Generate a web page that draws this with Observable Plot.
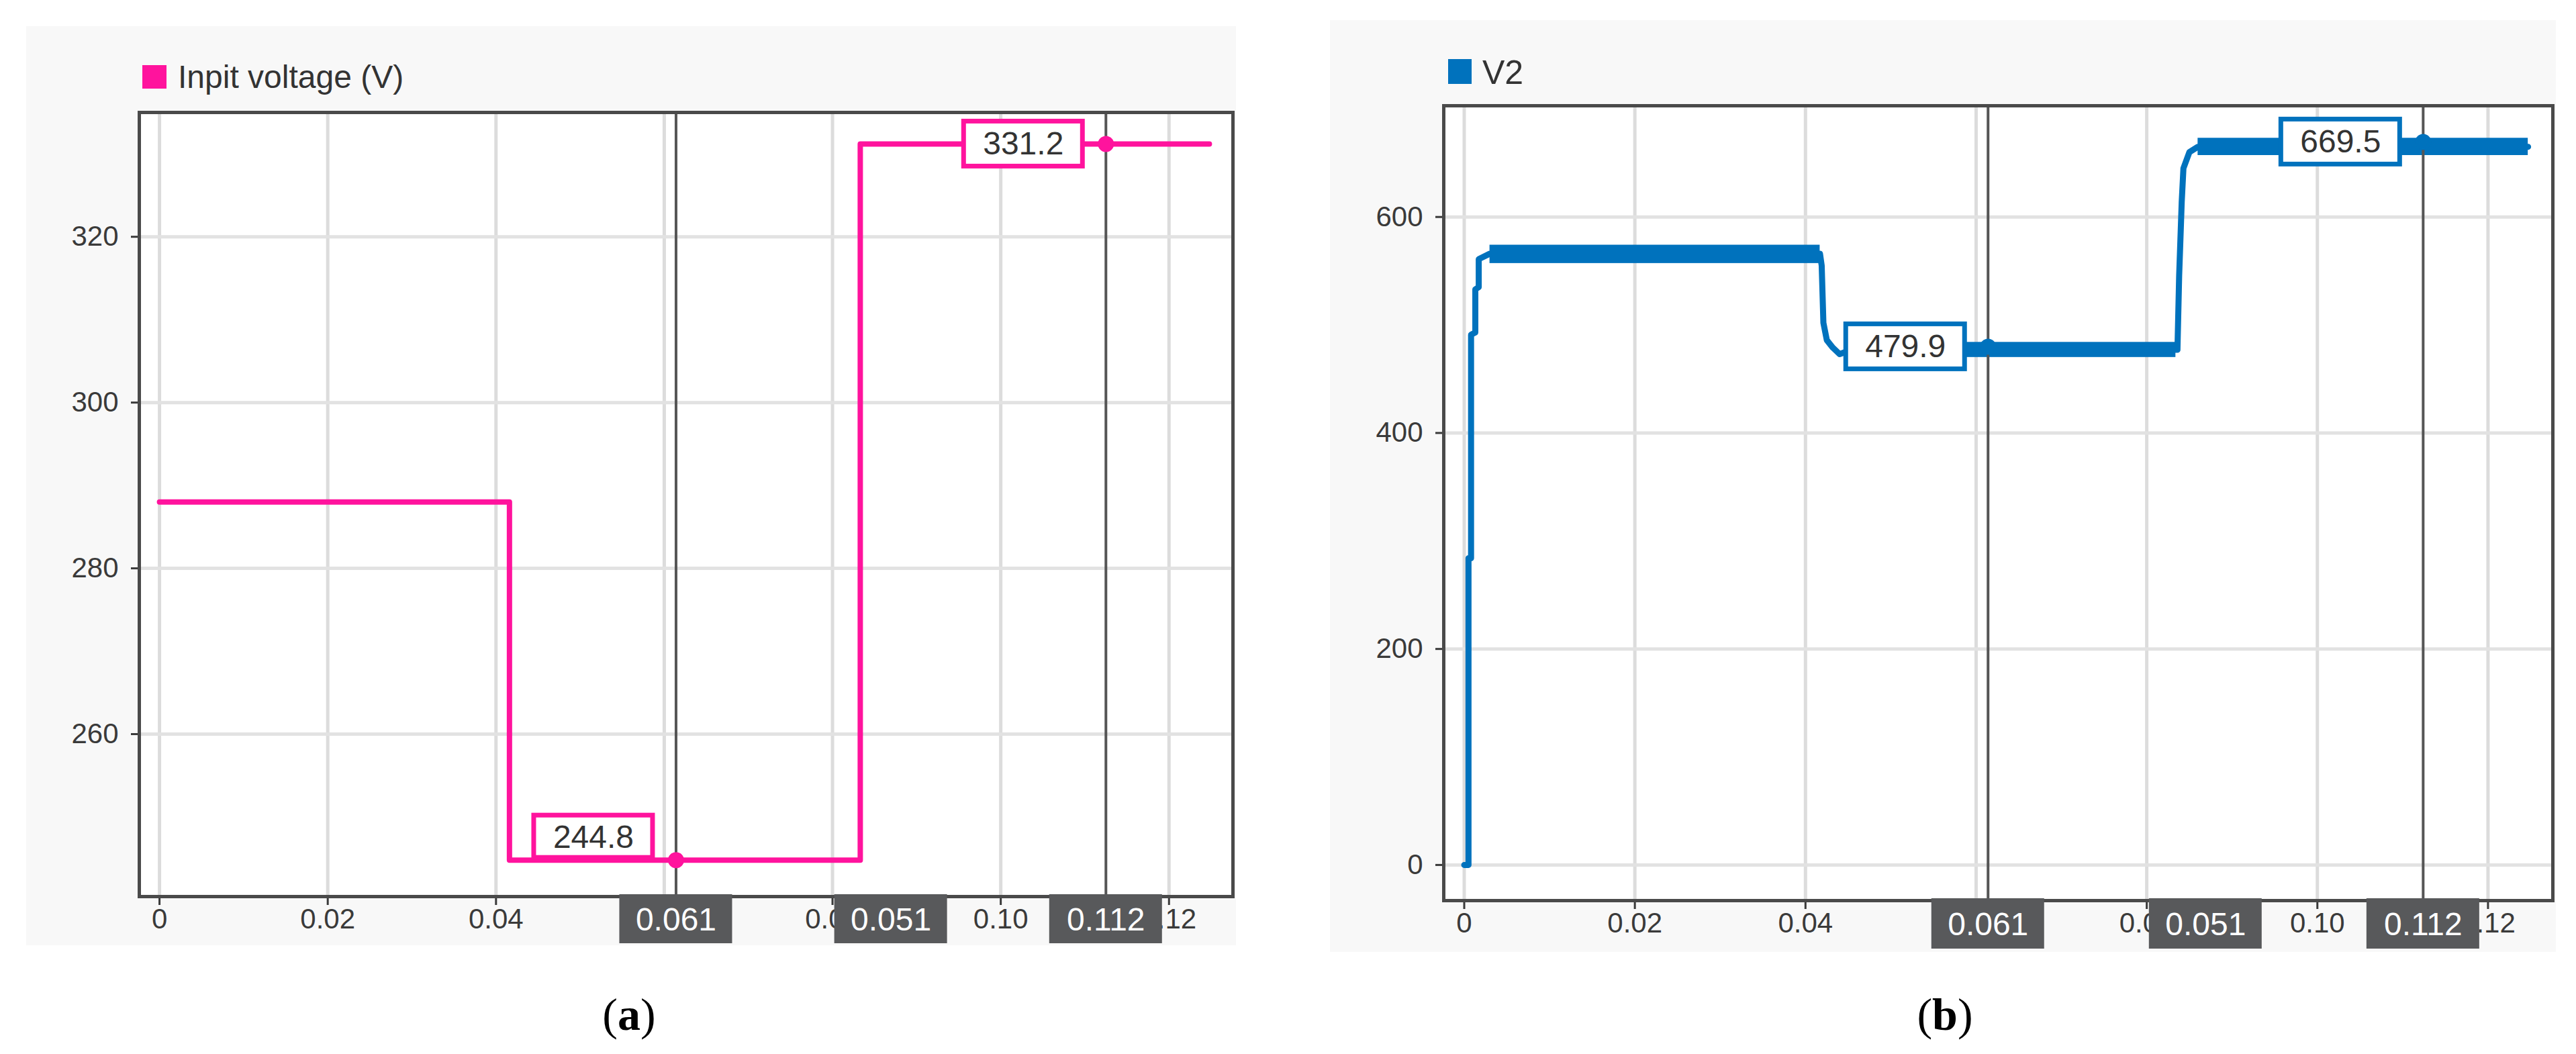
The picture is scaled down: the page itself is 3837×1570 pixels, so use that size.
<!DOCTYPE html>
<html>
<head>
<meta charset="utf-8">
<script src="https://cdn.jsdelivr.net/npm/d3@7"></script>
<script src="https://cdn.jsdelivr.net/npm/@observablehq/plot@0.6"></script>
<style>
html,body{margin:0;padding:0;background:#fff;}
body{width:3837px;height:1570px;position:relative;overflow:hidden;font-family:"Liberation Sans",Arial,sans-serif;}
.panel{position:absolute;background:#f8f8f8;}
.panel svg{position:absolute;left:0;top:0;overflow:visible;}
.sw{position:absolute;}
.lg{position:absolute;color:#333;line-height:1;white-space:nowrap;}
.cap{position:absolute;width:400px;font-family:"Liberation Serif","Times New Roman",serif;font-size:68px;line-height:1;text-align:center;color:#000;}
</style>
</head>
<body>
<div id="pa" class="panel" style="left:39px;top:39px;width:1802px;height:1369px"></div>
<div id="pb" class="panel" style="left:1981px;top:30px;width:1826px;height:1388px"></div>

<div class="sw" style="left:212px;top:97px;width:36px;height:35px;background:#ff139d"></div>
<div class="lg" style="left:265px;top:91px;font-size:48px">Inpit voltage (V)</div>
<div class="sw" style="left:2157px;top:88px;width:35px;height:37px;background:#0072bd"></div>
<div class="lg" style="left:2208px;top:83px;font-size:50px">V2</div>

<div class="cap" style="left:737px;top:1477px">(<b>a</b>)</div>
<div class="cap" style="left:2697px;top:1477px">(<b>b</b>)</div>

<script>
// ---------- shared axis data ----------
const xTicks = [0, 0.02, 0.04, 0.06, 0.08, 0.10, 0.12];
// the 0.06 label is fully hidden behind the cursor readout in the reference
const xTickLabels = ["0", "0.02", "0.04", "", "0.08", "0.10", "0.12"];
const xDomain = [-0.0024, 0.1276];
const cursorTickText = ["0.061", "0.112"];
const cursorDeltaText = "0.051";

// ---------- panel (a): input voltage ----------
const inputT = [0, 0.0416, 0.0416, 0.0833, 0.0833, 0.1248];
const inputV = [288, 288, 244.8, 244.8, 331.2, 331.2];
const inputYTicks = [260, 280, 300, 320];
const inputYDomain = [240.4, 335.0];
const inputCursorT = [0.0614, 0.1125];
const inputCursorV = [244.8, 331.2];
const inputCursorText = ["244.8", "331.2"];

// ---------- panel (b): V2 ----------
const v2T = [0, 0.0005, 0.0005, 0.0008, 0.0008, 0.0013, 0.0013, 0.0017, 0.0017, 0.0030, 0.0417,
             0.0419, 0.0421, 0.0425, 0.0432, 0.0440, 0.0450, 0.0834,
             0.0836, 0.0838, 0.0841, 0.0843, 0.0850, 0.0860, 0.1247];
const v2V = [0, 0, 284, 284, 491, 493, 533, 535, 561, 566, 566,
             555, 502, 486, 479, 473, 476, 477,
             477, 546, 614, 645, 660, 665, 665];
const v2BandT1 = [0.0030, 0.0450, 0.0860];
const v2BandT2 = [0.0417, 0.0834, 0.1247];
const v2BandLo = [557, 470, 657];
const v2BandHi = [574, 484, 673];
const v2YTicks = [0, 200, 400, 600];
const v2YDomain = [-33, 703];
const v2CursorT = [0.0614, 0.1124];
const v2CursorV = [479.9, 669.5];
const v2CursorText = ["479.9", "669.5"];

const xLabelMap = new Map(xTicks.map((d, i) => [d, xTickLabels[i]]));

function makePanel(cfg) {
  const line = cfg.t.map((t, i) => ({t, v: cfg.v[i]}));
  const cursors = cfg.cursorT.map((t, i) => ({t, v: cfg.cursorV[i], text: cfg.cursorText[i], above: cfg.above[i]}));
  const bottom = [
    {t: cfg.cursorT[0], text: cursorTickText[0]},
    {t: cfg.cursorT[1], text: cursorTickText[1]},
    {t: (cfg.cursorT[0] + cfg.cursorT[1]) / 2, text: cursorDeltaText}
  ];
  const yMin = cfg.yDomain[0];
  const boxW = 184, gap = 31, boxH = 74, sw = 7;
  const boxCommon = {x1: "t", x2: "t", y1: "v", y2: "v", fill: "white", stroke: cfg.color, strokeWidth: sw,
                     insetLeft: -(gap + boxW - sw / 2), insetRight: gap + sw / 2};
  const marks = [
    Plot.frame({fill: "white"}),
    Plot.gridX(xTicks, {stroke: "#dcdcdc", strokeOpacity: 1, strokeWidth: 5}),
    Plot.gridY(cfg.yTicks, {stroke: "#e2e2e2", strokeOpacity: 1, strokeWidth: 5}),
    Plot.axisX(xTicks, {label: null, tickSize: 13, tickPadding: 5, tickFormat: d => xLabelMap.get(d), fontSize: 42, color: "#3a3a3a", strokeWidth: 3}),
    Plot.axisY(cfg.yTicks, {label: null, tickSize: 12, tickPadding: 19, tickFormat: d => String(d), fontSize: 42, color: "#3a3a3a", strokeWidth: 3})
  ];
  if (cfg.bands) {
    const bands = cfg.bands.t1.map((t1, i) => ({t1, t2: cfg.bands.t2[i], lo: cfg.bands.lo[i], hi: cfg.bands.hi[i]}));
    marks.push(Plot.rect(bands, {x1: "t1", x2: "t2", y1: "lo", y2: "hi", fill: cfg.color}));
  }
  marks.push(
    Plot.line(line, {x: "t", y: "v", stroke: cfg.color, strokeWidth: cfg.lineWidth, strokeLinejoin: "round"}),
    Plot.ruleX(cfg.cursorT, {stroke: "#555", strokeWidth: 4}),
    Plot.dot(cursors, {x: "t", y: "v", r: 12, fill: cfg.color, stroke: "none"}),
    Plot.rect(cursors.filter(d => !d.above), {...boxCommon, insetTop: -(boxH / 2 - sw / 2), insetBottom: -(boxH / 2 - sw / 2)}),
    Plot.rect(cursors.filter(d => d.above), {...boxCommon, insetTop: -(70 - sw / 2), insetBottom: sw / 2}),
    Plot.text(cursors.filter(d => !d.above), {x: "t", y: "v", text: "text", dx: -(gap + boxW / 2), fontSize: 48, fill: "#333", textAnchor: "middle", lineAnchor: "middle"}),
    Plot.text(cursors.filter(d => d.above), {x: "t", y: "v", text: "text", dx: -(gap + boxW / 2), dy: -34, fontSize: 48, fill: "#333", textAnchor: "middle", lineAnchor: "middle"}),
    Plot.frame({stroke: "#4a4a4a", strokeWidth: 5}),
    Plot.rect(bottom, {x1: "t", x2: "t", y1: () => yMin, y2: () => yMin, fill: "#58595b",
                       insetLeft: -84, insetRight: -84, insetTop: -3, insetBottom: -cfg.bottomBoxH}),
    Plot.text(bottom, {x: "t", y: () => yMin, text: "text", dy: cfg.bottomBoxH / 2, fontSize: 48, fill: "white", textAnchor: "middle", lineAnchor: "middle"})
  );
  return Plot.plot({
    width: cfg.width, height: cfg.height,
    marginLeft: cfg.ml, marginTop: cfg.mt, marginRight: cfg.mr, marginBottom: cfg.mb,
    x: {domain: xDomain, label: null},
    y: {domain: cfg.yDomain, label: null},
    style: {background: "transparent", fontFamily: "'Liberation Sans', Arial, sans-serif", fontSize: "42px", color: "#333", overflow: "visible"},
    marks
  });
}

document.getElementById("pa").append(makePanel({
  width: 1802, height: 1369, ml: 168, mt: 128, mr: 5, mb: 73,
  t: inputT, v: inputV, yTicks: inputYTicks, yDomain: inputYDomain,
  cursorT: inputCursorT, cursorV: inputCursorV, cursorText: inputCursorText, above: [true, false],
  color: "#ff139d", lineWidth: 8, bottomBoxH: 70
}));

document.getElementById("pb").append(makePanel({
  width: 1826, height: 1388, ml: 169, mt: 127, mr: 5, mb: 77,
  t: v2T, v: v2V, yTicks: v2YTicks, yDomain: v2YDomain,
  bands: {t1: v2BandT1, t2: v2BandT2, lo: v2BandLo, hi: v2BandHi},
  cursorT: v2CursorT, cursorV: v2CursorV, cursorText: v2CursorText, above: [false, false],
  color: "#0072bd", lineWidth: 9, bottomBoxH: 72
}));
</script>
</body>
</html>
